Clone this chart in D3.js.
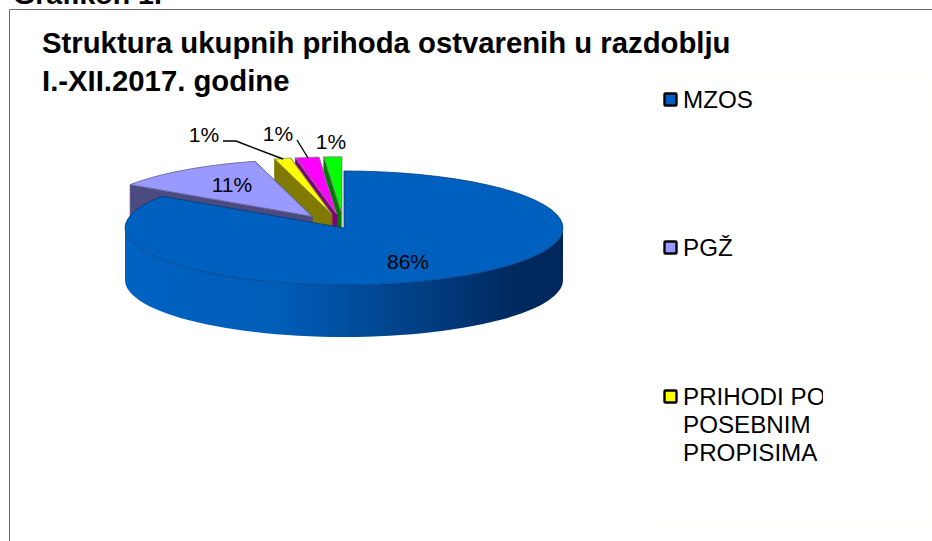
<!DOCTYPE html>
<html>
<head>
<meta charset="utf-8">
<script src="https://cdn.jsdelivr.net/npm/d3@7"></script>
<style>
  body { margin: 0; background: #fff; }
  svg { display: block; }
  text { font-family: "Liberation Sans", Arial, sans-serif; fill: #000; }
</style>
</head>
<body>
<svg id="chart" width="932" height="541"></svg>
<script>
const shares = [84.4, 11.4, 1.2, 1.7, 1.3];
const percentLabels = ["86%", "11%", "1%", "1%", "1%"];
const topColors = ["#0060c0", "#9999ff", "#ffff00", "#ff00ff", "#00ff00"];
const wallColors = ["#003a80", "#4b4b80", "#807a00", "#800080", "#007a00"];
const edgeColors = ["#003a80", "#6a6aa8", "#8a8a50", "#808080", "#808080"];
const legendLines = [["MZOS"], ["PGŽ"], ["PRIHODI PO", "POSEBNIM", "PROPISIMA"]];
const titleLines = ["Struktura ukupnih prihoda ostvarenih u razdoblju", "I.-XII.2017. godine"];

const cx = 344, cy = 228, rx = 219, ry = 57, depth = 52, explode = 0.25;

const svg = d3.select("#chart");
const defs = svg.append("defs");

const sideGrad = defs.append("linearGradient")
    .attr("id", "sideGrad")
    .attr("gradientUnits", "userSpaceOnUse")
    .attr("x1", cx - rx).attr("x2", cx + rx)
    .attr("y1", 0).attr("y2", 0);
[[0, "#0062c2"], [0.35, "#005db8"], [0.55, "#014a98"], [0.72, "#013a7c"], [0.88, "#002a60"], [1, "#00275c"]]
    .forEach(s => sideGrad.append("stop").attr("offset", s[0]).attr("stop-color", s[1]));

defs.append("clipPath").attr("id", "legendClip")
    .append("rect").attr("x", 651).attr("y", 79).attr("width", 172).attr("height", 446);

// frame
svg.append("path")
    .attr("d", "M9.5,541V9.5H932")
    .attr("fill", "none")
    .attr("stroke", "#6e6e6e");

svg.append("text")
    .attr("x", 13).attr("y", 4)
    .attr("font-size", 28.5).attr("font-weight", "bold")
    .text("Grafikon 1.");

svg.append("g").selectAll("text")
    .data(titleLines)
    .enter().append("text")
    .attr("x", 42)
    .attr("y", (d, i) => 53 + i * 38)
    .attr("font-size", 29.3)
    .attr("font-weight", "bold")
    .text(d => d);

// unit circle -> tilted ellipse
const xScale = d3.scaleLinear().domain([-1, 1]).range([cx - rx, cx + rx]);
const yScale = d3.scaleLinear().domain([-1, 1]).range([cy - ry, cy + ry]);
const line = d3.line().x(d => xScale(d[0])).y(d => yScale(d[1]) + (d[2] || 0));

const pie = d3.pie().sort(null).value(d => d);
const slices = pie(shares).map((d, i) => {
    const off = i === 0 ? 0 : explode;
    const mid = (d.startAngle + d.endAngle) / 2;
    return {
        i,
        a0: d.startAngle,
        a1: d.endAngle,
        ox: off * Math.sin(mid),
        oy: -off * Math.cos(mid)
    };
});

const rim = (s, a, dz) => [s.ox + Math.sin(a), s.oy - Math.cos(a), dz || 0];
const apex = (s, dz) => [s.ox, s.oy, dz || 0];
const arcPoints = (s, from, to, dz) =>
    d3.range(0, 61).map(k => rim(s, from + (to - from) * k / 60, dz));

const pieG = svg.append("g");

// back slices first, the big slice goes on top of the walls behind it
[4, 3, 2, 1, 0].forEach(i => {
    const s = slices[i];
    const g = pieG.append("g");

    if (i > 0) {
        // start wall
        g.append("path")
            .attr("d", line([rim(s, s.a0), apex(s), apex(s, depth), rim(s, s.a0, depth)]) + "Z")
            .attr("fill", wallColors[i])
            .attr("stroke", wallColors[i]).attr("stroke-width", 0.8);
        // end wall seen edge on
        g.append("path")
            .attr("d", line([rim(s, s.a1), apex(s), apex(s, depth)]))
            .attr("fill", "none")
            .attr("stroke", i === 4 ? "#9a9a9a" : wallColors[i]);
    } else {
        const front = arcPoints(s, Math.PI / 2, Math.PI * 1.5, 0);
        const back = arcPoints(s, Math.PI * 1.5, Math.PI / 2, depth);
        g.append("path")
            .attr("d", line(front.concat(back)) + "Z")
            .attr("fill", "url(#sideGrad)");
    }

    g.append("path")
        .attr("d", line([apex(s)].concat(arcPoints(s, s.a0, s.a1))) + "Z")
        .attr("fill", topColors[i])
        .attr("stroke", edgeColors[i])
        .attr("stroke-width", i === 0 ? 0.8 : 1);
});

// leader lines
const leaders = [[[223, 141], [236, 141], [283, 159]], [[297, 140], [308, 158]]];
svg.append("g").selectAll("path")
    .data(leaders)
    .enter().append("path")
    .attr("d", d3.line())
    .attr("fill", "none")
    .attr("stroke", "#000")
    .attr("stroke-width", 1.4);

const labelPos = [[408, 269], [232, 192], [204, 142], [278, 141], [331, 149]];
svg.append("g").selectAll("text")
    .data(percentLabels)
    .enter().append("text")
    .attr("x", (d, i) => labelPos[i][0])
    .attr("y", (d, i) => labelPos[i][1])
    .attr("text-anchor", "middle")
    .attr("font-size", 21)
    .text(d => d);

// legend
svg.append("rect")
    .attr("x", 651.5).attr("y", 79.5)
    .attr("width", 277).attr("height", 446)
    .attr("fill", "none")
    .attr("stroke", "#fffff0");

const legendBase = [108, 256, 405];
const legendG = svg.append("g").selectAll("g")
    .data(legendLines)
    .enter().append("g");

legendG.append("rect")
    .attr("x", 664.5)
    .attr("y", (d, i) => legendBase[i] - 14.5)
    .attr("width", 12).attr("height", 12)
    .attr("rx", 1)
    .attr("fill", (d, i) => topColors[i])
    .attr("stroke", "#000")
    .attr("stroke-width", 2.4);

legendG.each(function (lines, i) {
    d3.select(this).selectAll("text")
        .data(lines)
        .enter().append("text")
        .attr("x", 683)
        .attr("y", (d, j) => legendBase[i] + j * 28)
        .attr("font-size", 24.2)
        .attr("clip-path", "url(#legendClip)")
        .text(d => d);
});
</script>
</body>
</html>
